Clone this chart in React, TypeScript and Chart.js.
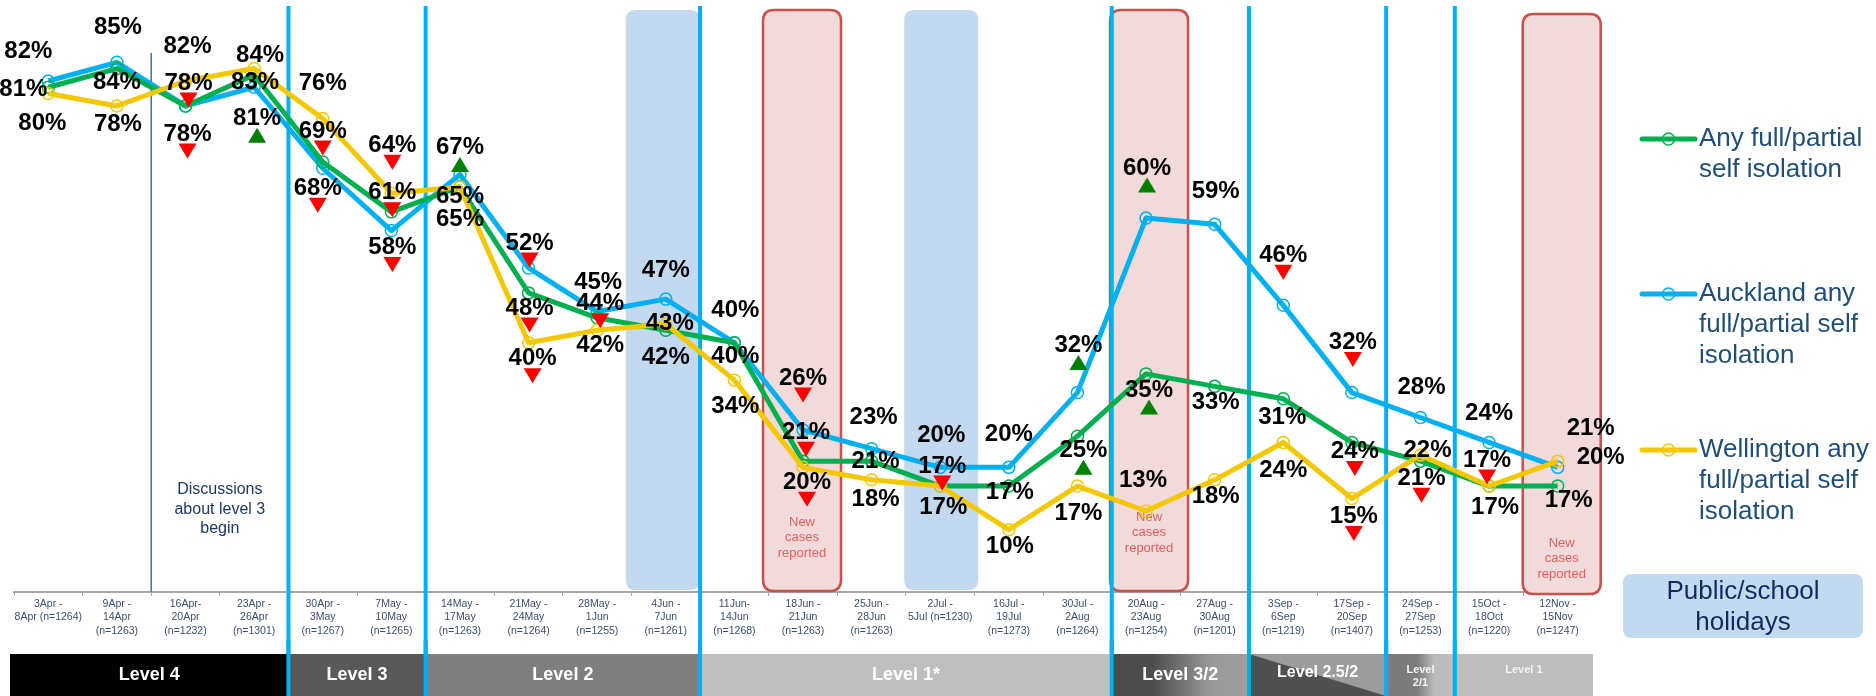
import React, { useEffect, useRef } from 'react';
import { Chart, registerables } from 'chart.js';

Chart.register(...registerables);

// ---------------- data ----------------
const weekLabels: string[][] = [
  ['3Apr -', '8Apr (n=1264)'],
  ['9Apr -', '14Apr', '(n=1263)'],
  ['16Apr-', '20Apr', '(n=1232)'],
  ['23Apr -', '26Apr', '(n=1301)'],
  ['30Apr -', '3May', '(n=1267)'],
  ['7May -', '10May', '(n=1265)'],
  ['14May -', '17May', '(n=1263)'],
  ['21May -', '24May', '(n=1264)'],
  ['28May -', '1Jun', '(n=1255)'],
  ['4Jun -', '7Jun', '(n=1261)'],
  ['11Jun-', '14Jun', '(n=1268)'],
  ['18Jun -', '21Jun', '(n=1263)'],
  ['25Jun -', '28Jun', '(n=1263)'],
  ['2Jul -', '5Jul (n=1230)'],
  ['16Jul -', '19Jul', '(n=1273)'],
  ['30Jul -', '2Aug', '(n=1264)'],
  ['20Aug -', '23Aug', '(n=1254)'],
  ['27Aug -', '30Aug', '(n=1201)'],
  ['3Sep -', '6Sep', '(n=1219)'],
  ['17Sep -', '20Sep', '(n=1407)'],
  ['24Sep -', '27Sep', '(n=1253)'],
  ['15Oct -', '18Oct', '(n=1220)'],
  ['12Nov -', '15Nov', '(n=1247)'],
];

const anyIsolation = [81, 84, 78, 83, 69, 61, 65, 48, 44, 42, 40, 21, 21, 17, 17, 25, 35, 33, 31, 24, 21, 17, 17];
const aucklandIsolation = [82, 85, 78, 81, 68, 58, 67, 52, 45, 47, 40, 26, 23, 20, 20, 32, 60, 59, 46, 32, 28, 24, 20];
const wellingtonIsolation = [80, 78, 82, 84, 76, 64, 65, 40, 42, 43, 34, 20, 18, 17, 10, 17, 13, 18, 24, 15, 22, 17, 21];

// significant change vs previous wave: 'u' up, 'd' down
const anyChange = ['', '', 'd', '', 'd', 'd', '', 'd', 'd', '', '', 'd', '', 'd', '', 'u', 'u', '', '', 'd', 'd', 'd', ''];
const aucklandChange = ['', '', 'd', 'u', 'd', 'd', 'u', 'd', '', '', '', 'd', '', '', '', 'u', 'u', '', 'd', 'd', '', '', ''];
const wellingtonChange = ['', '', '', '', '', 'd', '', 'd', '', '', '', 'd', '', '', '', '', '', '', '', 'd', '', '', ''];

const seriesNames = ['Any full/partial self isolation', 'Auckland any full/partial self isolation', 'Wellington any full/partial self isolation'];
const legendLines = [
  ['Any full/partial', 'self isolation'],
  ['Auckland any', 'full/partial self', 'isolation'],
  ['Wellington any', 'full/partial self', 'isolation'],
];

const holidayWeeks = [9, 13];
const newCaseWeeks = [11, 16, 22];
const discussionWeek = 2;
const levelNames = ['Level 4', 'Level 3', 'Level 2', 'Level 1*', 'Level 3/2', 'Level 2.5/2', 'Level 2/1', 'Level 1'];
const levelStarts = [0, 4, 6, 10, 16, 18, 20, 21];

// ---------------- layout / styles ----------------
const FONT = '"Liberation Sans", Arial, sans-serif';
const GREEN = '#00B050';
const BLUE = '#00B0F0';
const YELLOW = '#F3C800';
const HOLIDAY = '#C3D9EF';

// label offsets [dx, dy] from each point
const anyLabelPos = [[-25, 2], [0, 14], [3, -23], [1, 8], [0, -31], [1, -19], [0, 32], [1, 15], [3, -14], [0, 27], [1, 14], [3, -29], [4, 0], [2, -20], [1, 6], [6, 14], [3, 16], [1, 16], [-1, 19], [3, 9], [1, 17], [-2, -26], [11, 14]];
const aucklandLabelPos = [[-20, -30], [1, -35], [2, 28], [3, 31], [-5, 20], [1, 17], [0, -27], [1, -25], [1, -29], [0, -29], [1, -32], [0, -52], [2, -31], [1, -32], [0, -33], [1, -47], [1, -50], [1, -33], [0, -50], [1, -50], [1, -30], [0, -29], [43, -10]];
const wellingtonLabelPos = [[-6, 30], [1, 18], [2, -35], [6, -13], [0, -35], [1, -48], [0, 9], [4, 16], [3, 15], [4, -1], [1, 26], [4, 15], [4, 20], [3, 21], [1, 17], [1, 27], [-3, -31], [1, 17], [0, 28], [2, 18], [7, -5], [6, 21], [33, -33]];

const holidayShift = [-3, 1];
const newCaseShift = [-1, 3, 4];
const newCaseBoxY = [[10, 591], [10, 591], [14, 594]];
const newCaseTextY = [522, 517, 543];

function roundRect(ctx: CanvasRenderingContext2D, x: number, y: number, w: number, h: number, r: number) {
  ctx.beginPath();
  ctx.moveTo(x + r, y);
  ctx.lineTo(x + w - r, y);
  ctx.quadraticCurveTo(x + w, y, x + w, y + r);
  ctx.lineTo(x + w, y + h - r);
  ctx.quadraticCurveTo(x + w, y + h, x + w - r, y + h);
  ctx.lineTo(x + r, y + h);
  ctx.quadraticCurveTo(x, y + h, x, y + h - r);
  ctx.lineTo(x, y + r);
  ctx.quadraticCurveTo(x, y, x + r, y);
  ctx.closePath();
}

const overlayPlugin = {
  id: 'overlay',
  beforeDatasetsDraw(chart: any) {
    const ctx: CanvasRenderingContext2D = chart.ctx;
    const x = chart.scales.x;
    const step = x.getPixelForValue(1) - x.getPixelForValue(0);
    const edge = (k: number) => x.getPixelForValue(k) - step / 2;
    ctx.save();
    // holiday boxes
    holidayWeeks.forEach((w, i) => {
      const cx = x.getPixelForValue(w) + holidayShift[i];
      roundRect(ctx, cx - 37, 10, 74, 580, 10);
      ctx.fillStyle = HOLIDAY;
      ctx.fill();
    });
    // new case boxes
    newCaseWeeks.forEach((w, i) => {
      const cx = x.getPixelForValue(w) + newCaseShift[i];
      const [top, bottom] = newCaseBoxY[i];
      roundRect(ctx, cx - 39, top, 78, bottom - top, 11);
      ctx.fillStyle = '#F2DADA';
      ctx.fill();
      ctx.strokeStyle = '#C9504D';
      ctx.lineWidth = 2.5;
      ctx.stroke();
      ctx.fillStyle = '#E0615E';
      ctx.font = `13px ${FONT}`;
      ctx.textAlign = 'center';
      ctx.textBaseline = 'middle';
      ['New', 'cases', 'reported'].forEach((t, j) => ctx.fillText(t, cx, newCaseTextY[i] + j * 15.5));
    });
    // discussion line & note
    const dl = edge(discussionWeek);
    ctx.strokeStyle = '#2E75B6';
    ctx.lineWidth = 1.5;
    ctx.beginPath();
    ctx.moveTo(dl, 53);
    ctx.lineTo(dl, 592);
    ctx.stroke();
    ctx.fillStyle = '#1F3864';
    ctx.font = `16px ${FONT}`;
    ctx.textAlign = 'center';
    ctx.textBaseline = 'middle';
    const nx = edge(discussionWeek + 1);
    ['Discussions', 'about level 3', 'begin'].forEach((t, j) => ctx.fillText(t, nx, 490 + j * 19.5));
    // level change lines
    ctx.strokeStyle = BLUE;
    ctx.lineWidth = 4;
    levelStarts.slice(1).forEach((k) => {
      const px = edge(k);
      ctx.beginPath();
      ctx.moveTo(px, 6);
      ctx.lineTo(px, 696);
      ctx.stroke();
    });
    ctx.restore();
  },
  afterDatasetsDraw(chart: any) {
    const ctx: CanvasRenderingContext2D = chart.ctx;
    const x = chart.scales.x;
    const y = chart.scales.y;
    const sets = [
      { v: anyIsolation, c: anyChange, p: anyLabelPos },
      { v: aucklandIsolation, c: aucklandChange, p: aucklandLabelPos },
      { v: wellingtonIsolation, c: wellingtonChange, p: wellingtonLabelPos },
    ];
    ctx.save();
    ctx.textAlign = 'center';
    ctx.textBaseline = 'middle';
    ctx.font = `bold 24px ${FONT}`;
    ctx.fillStyle = '#000';
    sets.forEach((s) => {
      s.v.forEach((v, i) => {
        const px = x.getPixelForValue(i) + s.p[i][0];
        const py = y.getPixelForValue(v) + s.p[i][1];
        ctx.fillText(`${v}%`, px, py);
      });
    });
    sets.forEach((s) => {
      s.v.forEach((v, i) => {
        const mark = s.c[i];
        if (!mark) return;
        const px = x.getPixelForValue(i) + s.p[i][0];
        const py = y.getPixelForValue(v) + s.p[i][1] + 17;
        ctx.beginPath();
        if (mark === 'd') {
          ctx.moveTo(px - 9, py - 7.5);
          ctx.lineTo(px + 9, py - 7.5);
          ctx.lineTo(px, py + 7.5);
          ctx.fillStyle = '#FF0000';
        } else {
          ctx.moveTo(px - 9, py + 7.5);
          ctx.lineTo(px + 9, py + 7.5);
          ctx.lineTo(px, py - 7.5);
          ctx.fillStyle = '#008000';
        }
        ctx.closePath();
        ctx.fill();
      });
    });
    ctx.restore();
  },
  afterDraw(chart: any) {
    const ctx: CanvasRenderingContext2D = chart.ctx;
    const x = chart.scales.x;
    const step = x.getPixelForValue(1) - x.getPixelForValue(0);
    const edge = (k: number) => x.getPixelForValue(k) - step / 2;
    const n = weekLabels.length;
    const y0 = 654;
    const y1 = 696;
    ctx.save();
    levelNames.forEach((name, i) => {
      const x0 = i === 0 ? edge(0) - 4 : edge(levelStarts[i]);
      const x1 = i === levelNames.length - 1 ? edge(n) + 1 : edge(levelStarts[i + 1]);
      if (i === 4) {
        const g = ctx.createLinearGradient(x0, 0, x1, 0);
        g.addColorStop(0, '#4B4B4B');
        g.addColorStop(0.3, '#4D4D4D');
        g.addColorStop(0.72, '#999999');
        g.addColorStop(1, '#9E9E9E');
        ctx.fillStyle = g;
        ctx.fillRect(x0, y0, x1 - x0, y1 - y0);
      } else if (i === 5) {
        ctx.fillStyle = '#9C9C9C';
        ctx.fillRect(x0, y0, x1 - x0, y1 - y0);
        ctx.beginPath();
        ctx.moveTo(x0, y0);
        ctx.lineTo(x1, y1);
        ctx.lineTo(x0, y1);
        ctx.closePath();
        ctx.fillStyle = '#505050';
        ctx.fill();
      } else if (i === 6) {
        const g = ctx.createLinearGradient(x0, 0, x1, 0);
        g.addColorStop(0, '#7A7A7A');
        g.addColorStop(0.45, '#7C7C7C');
        g.addColorStop(0.7, '#BBBBBB');
        g.addColorStop(1, '#BDBDBD');
        ctx.fillStyle = g;
        ctx.fillRect(x0, y0, x1 - x0, y1 - y0);
      } else {
        ctx.fillStyle = ['#000000', '#595959', '#7F7F7F', '#BFBFBF', '', '', '', '#BDBDBD'][i];
        ctx.fillRect(x0, y0, x1 - x0, y1 - y0);
      }
      const cx = (x0 + x1) / 2;
      ctx.fillStyle = '#FFFFFF';
      ctx.textAlign = 'center';
      ctx.textBaseline = 'middle';
      if (i === 6) {
        ctx.font = `bold 11px ${FONT}`;
        ctx.fillStyle = '#F4F4F4';
        ctx.fillText('Level', cx, 670);
        ctx.fillText('2/1', cx, 683);
      } else if (i === 7) {
        ctx.font = `bold 11px ${FONT}`;
        ctx.fillStyle = '#F4F4F4';
        ctx.fillText(name, cx, 670);
      } else if (i === 5) {
        ctx.font = `bold 16px ${FONT}`;
        ctx.fillText(name, cx, 673);
      } else {
        ctx.font = `bold 18px ${FONT}`;
        ctx.fillText(name, cx, 675);
      }
    });
    // level lines through the bar
    ctx.strokeStyle = BLUE;
    ctx.lineWidth = 4;
    levelStarts.slice(1).forEach((k) => {
      const px = edge(k);
      ctx.beginPath();
      ctx.moveTo(px, 640);
      ctx.lineTo(px, 696);
      ctx.stroke();
    });

    // legend
    const ys = [139, 294, 450];
    chart.data.datasets.forEach((ds: any, i: number) => {
      const ly = ys[i];
      ctx.strokeStyle = ds.borderColor;
      ctx.lineWidth = 5;
      ctx.lineCap = 'round';
      ctx.beginPath();
      ctx.moveTo(1642, ly);
      ctx.lineTo(1695, ly);
      ctx.stroke();
      ctx.lineCap = 'butt';
      ctx.lineWidth = 1.5;
      ctx.beginPath();
      ctx.arc(1668.5, ly, 6, 0, Math.PI * 2);
      ctx.stroke();
      ctx.fillStyle = '#1F4E79';
      ctx.font = `26px ${FONT}`;
      ctx.textAlign = 'left';
      ctx.textBaseline = 'middle';
      legendLines[i].forEach((t, j) => ctx.fillText(t, 1699, ly + j * 31));
    });

    // holiday key
    roundRect(ctx, 1623, 574, 240, 64, 9);
    ctx.fillStyle = HOLIDAY;
    ctx.fill();
    ctx.fillStyle = '#102B5E';
    ctx.font = `26px ${FONT}`;
    ctx.textAlign = 'center';
    ctx.textBaseline = 'middle';
    ctx.fillText('Public/school', 1743, 592);
    ctx.fillText('holidays', 1743, 623);
    ctx.restore();
  },
};

export default function App() {
  const ref = useRef<HTMLCanvasElement | null>(null);
  useEffect(() => {
    if (!ref.current) return;
    const mk = (label: string, data: number[], color: string, order: number) => ({
      label,
      data,
      borderColor: color,
      backgroundColor: color,
      borderWidth: 5,
      borderJoinStyle: 'round' as const,
      tension: 0,
      pointRadius: 6,
      pointBorderWidth: 1.5,
      pointBorderColor: color,
      pointBackgroundColor: 'rgba(255,255,255,0)',
      order,
    });
    const chart = new Chart(ref.current, {
      type: 'line',
      data: {
        labels: weekLabels,
        datasets: [
          mk(seriesNames[0], anyIsolation, GREEN, 1),
          mk(seriesNames[1], aucklandIsolation, BLUE, 2),
          mk(seriesNames[2], wellingtonIsolation, YELLOW, 0),
        ],
      },
      options: {
        animation: false,
        responsive: false,
        devicePixelRatio: 1,
        layout: { autoPadding: false, padding: { left: 14, right: 284, top: 0, bottom: 0 } },
        plugins: { legend: { display: false }, tooltip: { enabled: false } },
        scales: {
          x: {
            type: 'category',
            offset: true,
            grid: {
              display: true,
              offset: true,
              drawOnChartArea: false,
              drawTicks: true,
              tickLength: 4,
              color: '#A6A6A6',
              lineWidth: 1,
            },
            border: { display: true, color: '#A6A6A6', width: 2 },
            ticks: {
              autoSkip: false,
              maxRotation: 0,
              minRotation: 0,
              padding: 1,
              color: '#3A4F6E',
              font: { family: FONT, size: 10.5, lineHeight: 1.3 },
            },
            afterFit: (s: any) => {
              s.height = 104;
            },
          },
          y: { display: false, min: 0, max: 95 },
        },
      },
      plugins: [overlayPlugin],
    } as any);
    return () => chart.destroy();
  }, []);
  return (
    <div style={{ position: 'absolute', left: 0, top: 0, width: 1876, height: 696, background: '#fff' }}>
      <canvas ref={ref} width={1876} height={696} style={{ width: 1876, height: 696, display: 'block' }} />
    </div>
  );
}
